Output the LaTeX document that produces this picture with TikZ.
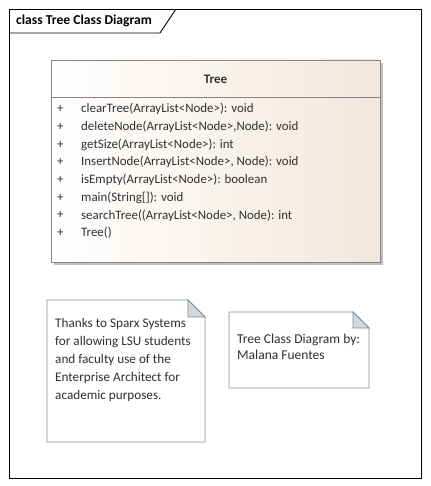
\documentclass[tikz,border=0pt]{standalone}
\usepackage{fontspec}
\setmainfont{Carlito}
\usetikzlibrary{shadings}
\definecolor{clsborder}{HTML}{8C8480}
\definecolor{clsfill}{HTML}{F3E7DC}
\definecolor{noteborder}{HTML}{7A8E99}
\definecolor{foldfill}{HTML}{D3D9DC}
\definecolor{txt}{HTML}{303030}
\tikzset{
  optext/.style={anchor=west, inner sep=0pt, font=\fontsize{12.9}{14}\selectfont, text=txt},
  notetext/.style={anchor=north west, inner sep=0pt, align=left, font=\fontsize{13.2}{18}\selectfont, text=txt},
  noteline/.style={draw=noteborder, line width=0.8pt, fill=white},
}
\begin{document}
\begin{tikzpicture}[x=1pt,y=-1pt]
\useasboundingbox (0,0) rectangle (430,486);
\fill[white] (0,0) rectangle (430,486);
% frame
\draw[black, line width=0.9pt] (9,9) rectangle (421,478);
\draw[black, line width=0.9pt] (9,33) -- (160,33) -- (176,9);
\node[anchor=west, inner sep=0pt, font=\bfseries\fontsize{13.6}{14}\selectfont] (title) at (16,21) {class Tree Class Diagram};
% class box shadow
\fill[black!25] (54,63) rectangle (383,265);
% class box
\shade[left color=white, right color=clsfill] (51,60) rectangle (380,262);
\draw[clsborder, line width=0.9pt] (51,60) rectangle (380,262);
\draw[clsborder, line width=0.9pt] (51,97) -- (380,97);
\node[inner sep=0pt, font=\bfseries\fontsize{13}{14}\selectfont, text=txt] (cname) at (215.5,79) {Tree};
\foreach \t [count=\i] in {clearTree(ArrayList<Node>): void,
  {deleteNode(ArrayList<Node>,Node): void},
  getSize(ArrayList<Node>): int,
  {InsertNode(ArrayList<Node>, Node): void},
  isEmpty(ArrayList<Node>): boolean,
  main(String[]): void,
  {searchTree((ArrayList<Node>, Node): int},
  Tree()} {
  \node[optext] (p\i) at (57,{91.5+\i*17.7}) {+};
  \node[optext] (op\i) at (81,{91.5+\i*17.7}) {\t};
}
% note 1
\draw[noteline] (47,300) -- (188,300) -- (205,317) -- (205,442) -- (47,442) -- cycle;
\draw[noteline, fill=foldfill] (188,300) -- (205,317) -- (188,317) -- cycle;
\node[notetext] (n1) at (55,318) {Thanks to Sparx Systems\\for allowing LSU students\\and faculty use of the\\Enterprise Architect for\\academic purposes.};
% note 2
\draw[noteline] (229,312) -- (353,312) -- (369,328) -- (369,388) -- (229,388) -- cycle;
\draw[noteline, fill=foldfill] (353,312) -- (369,328) -- (353,328) -- cycle;
\node[notetext, font=\fontsize{13.5}{16}\selectfont] (n2) at (237,334) {Tree Class Diagram by:\\Malana Fuentes};
\end{tikzpicture}
\end{document}
